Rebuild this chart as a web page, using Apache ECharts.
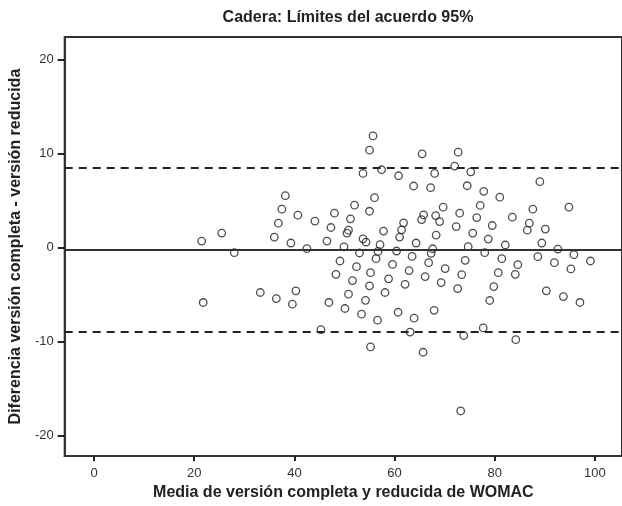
<!DOCTYPE html>
<html>
<head>
<meta charset="utf-8">
<script src="https://cdn.jsdelivr.net/npm/echarts@6/dist/echarts.min.js"></script>
<style>
  html, body { margin: 0; padding: 0; background: #fff; }
  #chart { width: 622px; height: 506px; }
</style>
</head>
<body>
<div id="chart"></div>
<script>
// media de las dos versiones (eje x)
var mediaWomac = [
  21.5, 25.5, 28.0, 21.8, 38.2, 37.5, 40.7, 36.8, 44.1, 48.0,
  52.0, 51.2, 47.3, 50.8, 50.5, 36.0, 39.3, 46.5, 53.7, 54.3,
  55.0, 42.5, 49.9, 53.0, 49.1, 52.4, 48.3, 51.6, 55.0, 33.2,
  40.3, 36.4, 39.6, 46.9, 50.8, 54.2, 50.1, 53.4, 45.3, 55.2,
  53.7, 55.0, 55.7, 65.5, 72.7, 57.4, 60.8, 68.0, 72.0, 75.2,
  63.8, 67.2, 74.5, 77.8, 56.0, 69.7, 65.8, 65.4, 68.2, 69.0,
  73.0, 77.1, 76.4, 72.3, 61.8, 61.4, 57.8, 61.0, 68.3, 75.6,
  57.1, 64.3, 78.7, 56.7, 60.4, 67.6, 67.3, 74.7, 78.0, 56.3,
  63.5, 59.6, 66.8, 74.1, 62.9, 70.1, 58.8, 66.1, 73.4, 62.1,
  69.3, 58.1, 72.6, 60.7, 56.6, 63.9, 67.9, 63.1, 77.7, 73.8,
  55.2, 79.0, 65.7, 73.2, 89.0, 81.0, 87.6, 94.8, 83.5, 79.5,
  86.9, 86.5, 90.1, 82.1, 89.4, 92.6, 81.4, 88.6, 95.8, 84.6,
  91.9, 99.1, 95.2, 80.7, 84.1, 79.8, 90.3, 93.7, 97.0, 84.2
];
// diferencia completa - reducida (eje y)
var diferencia = [
  0.71, 1.56, -0.53, -5.82, 5.53, 4.10, 3.46, 2.61, 2.83, 3.67,
  4.52, 3.07, 2.15, 1.87, 1.56, 1.13, 0.50, 0.71, 0.95, 0.60,
  3.88, -0.10, 0.10, -0.56, -1.41, -2.01, -2.83, -3.49, -4.05, -4.76,
  -4.58, -5.40, -6.00, -5.82, -4.94, -5.59, -6.46, -7.06, -8.71, -2.65,
  7.90, 10.37, 11.88, 9.98, 10.16, 8.29, 7.65, 7.90, 8.68, 8.07,
  6.56, 6.38, 6.59, 6.00, 5.32, 4.31, 3.49, 2.99, 3.42, 2.78,
  3.67, 4.50, 3.21, 2.25, 2.65, 1.90, 1.77, 1.13, 1.34, 1.56,
  0.32, 0.50, 0.92, -0.39, -0.35, -0.11, -0.60, 0.11, -0.53, -1.16,
  -0.92, -1.77, -1.59, -1.34, -2.43, -2.22, -3.31, -3.07, -2.86, -3.89,
  -3.70, -4.76, -4.34, -6.86, -7.70, -7.49, -6.65, -8.97, -8.52, -9.33,
  -10.55, -5.61, -11.11, -17.35, 7.02, 5.37, 4.10, 4.31, 3.25, 2.36,
  2.61, 1.87, 1.98, 0.29, 0.50, -0.14, -1.16, -0.95, -0.74, -1.80,
  -1.59, -1.41, -2.25, -2.65, -2.83, -4.13, -4.58, -5.19, -5.82, -9.77
];
// media de las diferencias y limites del acuerdo 95%
var mediaDif = -0.21;
var limites = [8.52, -8.94];

var xTicks = [0, 20, 40, 60, 80, 100];
var yTicks = [-20, -10, 0, 10, 20];

var FONT = "'Liberation Sans', Arial, Helvetica, sans-serif";

var puntos = [];
for (var i = 0; i < mediaWomac.length; i++) {
  puntos.push([mediaWomac[i], diferencia[i]]);
}

var chart = echarts.init(document.getElementById("chart"), null, { renderer: "canvas" });

var option = {
  animation: false,
  backgroundColor: "#fff",
  title: {
    text: "Cadera: Límites del acuerdo 95%",
    left: 343,
    top: 5,
    textAlign: "center",
    textStyle: { fontFamily: FONT, fontSize: 16, fontWeight: "bold", color: "#222" }
  },
  grid: {
    left: 63, top: 37, right: -2, bottom: 47,
    show: true, borderColor: "#333", borderWidth: 2, backgroundColor: "transparent"
  },
  xAxis: {
    type: "value",
    min: -5.85, max: 105.4,
    name: "Media de versión completa y reducida de WOMAC",
    nameLocation: "middle",
    nameGap: 26,
    nameTextStyle: { fontFamily: FONT, fontSize: 16, fontWeight: "bold", color: "#222" },
    axisLine: { show: true, onZero: false, lineStyle: { color: "#333", width: 2 } },
    axisTick: { show: true, inside: false, length: 5, customValues: xTicks, lineStyle: { color: "#222", width: 2 } },
    axisLabel: { customValues: xTicks, margin: 11, fontFamily: FONT, fontSize: 13, color: "#333" },
    splitLine: { show: false }
  },
  yAxis: {
    type: "value",
    min: -22.15, max: 22.4,
    name: "Diferencia versión completa - versión reducida",
    nameLocation: "middle",
    nameGap: 31,
    nameRotate: 90,
    nameTextStyle: { fontFamily: FONT, fontSize: 16, fontWeight: "bold", color: "#222" },
    axisLine: { show: true, onZero: false, lineStyle: { color: "#333", width: 2 } },
    axisTick: { show: true, inside: false, length: 7, customValues: yTicks, lineStyle: { color: "#222", width: 2 } },
    axisLabel: { customValues: yTicks, margin: 11, fontFamily: FONT, fontSize: 13, color: "#333" },
    splitLine: { show: false }
  },
  series: [
    {
      type: "scatter",
      data: puntos,
      symbol: "circle",
      symbolSize: 7.5,
      itemStyle: { color: "rgba(0,0,0,0)", borderColor: "#222", borderWidth: 1.3 },
      markLine: {
        silent: true,
        symbol: "none",
        label: { show: false },
        data: [
          { yAxis: mediaDif, lineStyle: { type: "solid", color: "#333", width: 2 } },
          { yAxis: limites[0], lineStyle: { type: [8, 6], color: "#222", width: 2 } },
          { yAxis: limites[1], lineStyle: { type: [8, 6], color: "#222", width: 2 } }
        ]
      }
    }
  ]
};

chart.setOption(option);
</script>
</body>
</html>
